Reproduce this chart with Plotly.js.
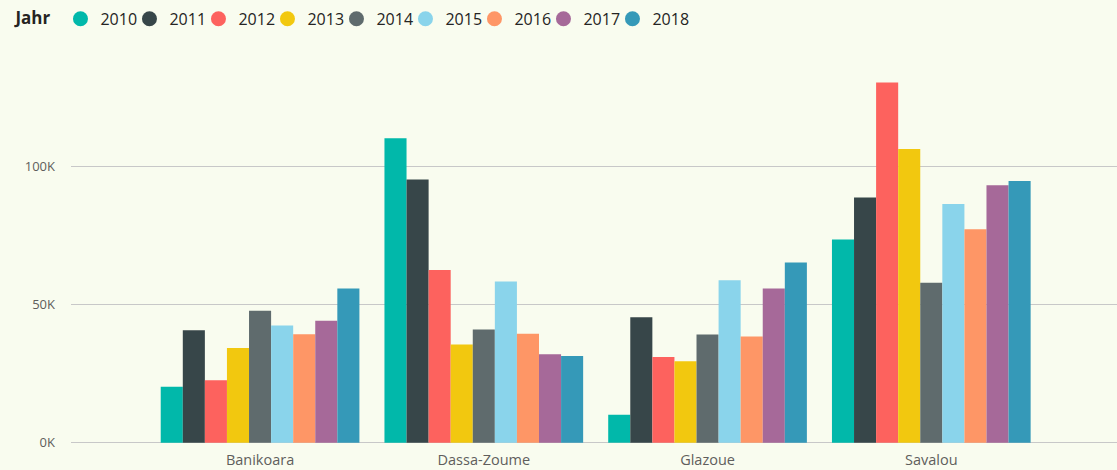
<!DOCTYPE html>
<html>
<head>
<meta charset="utf-8">
<script src="https://cdn.plot.ly/plotly-3.0.1.min.js"></script>
<style>html,body{margin:0;padding:0;background:#F9FCEF;}#chart{width:1117px;height:470px;}</style>
</head>
<body>
<div id="chart"></div>
<script>
const categories = ['Banikoara', 'Dassa-Zoume', 'Glazoue', 'Savalou'];
const years = ['2010', '2011', '2012', '2013', '2014', '2015', '2016', '2017', '2018'];
const v2010 = [20200, 110000, 10100, 73400];
const v2011 = [40600, 95100, 45300, 88600];
const v2012 = [22600, 62400, 31000, 130200];
const v2013 = [34200, 35500, 29400, 106100];
const v2014 = [47700, 40900, 39100, 57800];
const v2015 = [42400, 58300, 58700, 86300];
const v2016 = [39200, 39400, 38400, 77100];
const v2017 = [44100, 32000, 55700, 93000];
const v2018 = [55700, 31300, 65100, 94600];
const seriesValues = [v2010, v2011, v2012, v2013, v2014, v2015, v2016, v2017, v2018];
const colors = ['#01B8AA', '#374649', '#FD625E', '#F2C80F', '#5F6B6D', '#8AD4EB', '#FE9666', '#A66999', '#3599B8'];
const yTickVals = [0, 50000, 100000];
const yTickText = ['0K', '50K', '100K'];

const traces = [];
years.forEach((yr, i) => {
  traces.push({
    type: 'bar', x: categories, y: seriesValues[i], name: yr,
    legendgroup: yr, showlegend: false,
    marker: {color: colors[i], line: {width: 0}},
    hovertemplate: '%{x}<br>' + yr + ': %{y}<extra></extra>'
  });
});
years.forEach((yr, i) => {
  traces.push({
    type: 'scatter', mode: 'markers', x: [null], y: [null], name: yr,
    legendgroup: yr, showlegend: true,
    marker: {color: colors[i], size: 15, symbol: 'circle'},
    hoverinfo: 'skip'
  });
});
// invisible spacer entry so the last legend label is not clipped
traces.push({
  type: 'scatter', mode: 'markers', x: [null], y: [null], name: ' ',
  showlegend: true, marker: {color: 'rgba(0,0,0,0)', size: 1}, hoverinfo: 'skip'
});

const layout = {
  width: 1117, height: 470,
  paper_bgcolor: '#F9FCEF', plot_bgcolor: '#F9FCEF',
  font: {family: 'Open Sans, Noto Sans, sans-serif', color: '#605E5C'},
  margin: {l: 71, r: 0, t: 45, b: 25, pad: 0},
  barmode: 'group', bargap: 0.112, bargroupgap: 0,
  showlegend: true,
  legend: {
    orientation: 'h', xref: 'container', yref: 'container',
    x: 0.012, y: 0.996, xanchor: 'left', yanchor: 'top',
    bgcolor: 'rgba(0,0,0,0)',
    font: {size: 16, color: '#252423', family: 'Open Sans, sans-serif'},
    title: {text: '<b>Jahr</b>', side: 'left', font: {size: 17, color: '#252423'}},
    itemgap: 0, entrywidth: 24, entrywidthmode: 'pixels',
    itemclick: false, itemdoubleclick: false
  },
  xaxis: {
    type: 'category', range: [-0.845, 3.83],
    showgrid: false, zeroline: false, showline: false, ticks: '',
    ticklabelstandoff: 4,
    tickfont: {size: 14.5, color: '#605E5C'}, fixedrange: true
  },
  yaxis: {
    range: [-831, 143730],
    tickvals: yTickVals, ticktext: yTickText,
    showgrid: true, gridcolor: '#C8C8C8', gridwidth: 1,
    zeroline: false, showline: false, ticks: '',
    ticklabelstandoff: 15,
    tickfont: {size: 13, color: '#605E5C'}, fixedrange: true
  }
};

Plotly.newPlot('chart', traces, layout, {displayModeBar: false, staticPlot: true});
</script>
</body>
</html>
